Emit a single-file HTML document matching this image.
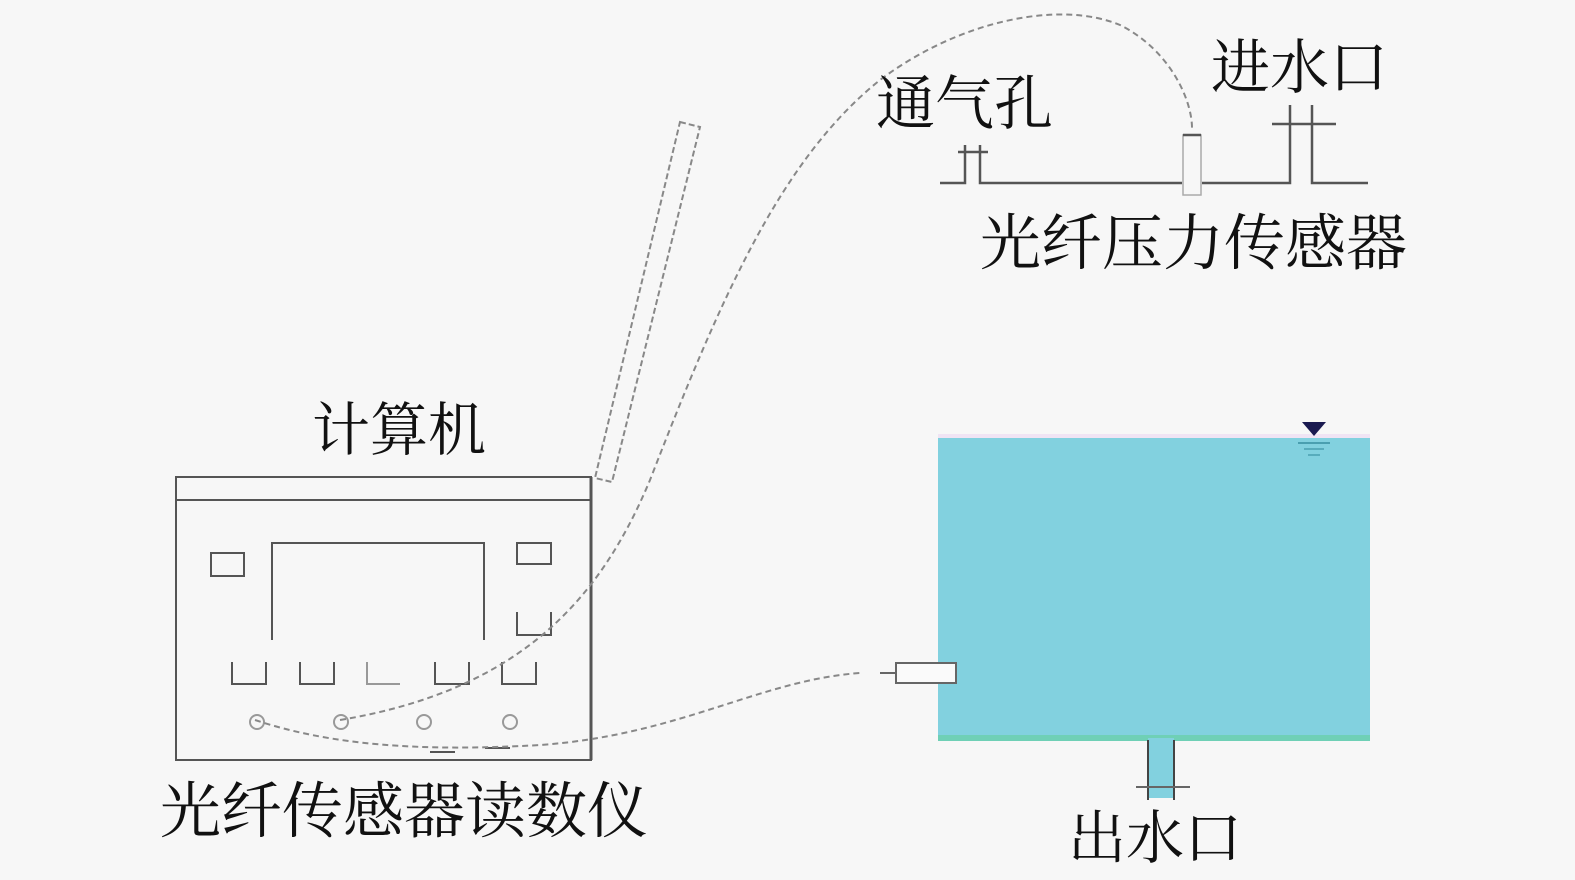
<!DOCTYPE html>
<html><head><meta charset="utf-8"><style>
html,body{margin:0;padding:0;background:#f7f7f7;}
svg{display:block;}
text{font-family:"Liberation Serif","Noto Serif CJK SC",serif;fill:#111;}
</style></head><body>
<svg width="1575" height="880" viewBox="0 0 1575 880" xmlns="http://www.w3.org/2000/svg">
<rect width="1575" height="880" fill="#f7f7f7"/>
<!-- tank -->
<rect x="938" y="434" width="432" height="6" fill="#f0e4f4"/>
<rect x="938" y="438" width="432" height="302" fill="#82d1df"/>
<rect x="938" y="735" width="432" height="6" fill="#6fd0b6"/>
<rect x="1148" y="738" width="26" height="60" fill="#82d1df"/>
<line x1="1148" y1="740" x2="1148" y2="800" stroke="#444" stroke-width="2"/>
<line x1="1174" y1="740" x2="1174" y2="800" stroke="#444" stroke-width="2"/>
<line x1="1136" y1="787" x2="1190" y2="787" stroke="#666" stroke-width="2"/>
<polygon points="1302,422 1326,422 1314,436" fill="#1a1a50"/>
<line x1="1298" y1="443" x2="1330" y2="443" stroke="#4a9fb0" stroke-width="2"/>
<line x1="1304" y1="449" x2="1324" y2="449" stroke="#4a9fb0" stroke-width="1.5"/>
<line x1="1308" y1="455" x2="1320" y2="455" stroke="#4a9fb0" stroke-width="1.5"/>
<!-- side sensor -->
<rect x="896" y="663" width="60" height="20" fill="#fafafa" stroke="#666" stroke-width="2"/>
<line x1="880" y1="673" x2="896" y2="673" stroke="#666" stroke-width="2"/>
<!-- top pipe -->
<g stroke="#555" stroke-width="2.5" fill="none">
<polyline points="940,183 965,183 965,145"/>
<polyline points="980,145 980,183 1182,183"/>
<line x1="958" y1="152" x2="988" y2="152"/>
<polyline points="1202,183 1290,183 1290,105"/>
<polyline points="1312,105 1312,183 1368,183"/>
<line x1="1272" y1="124" x2="1336" y2="124"/>
<rect x="1183" y="135" width="18" height="60" stroke="#aaa" stroke-width="1.5"/>
<line x1="1183" y1="135" x2="1201" y2="135"/>
</g>
<!-- computer -->
<g stroke="#555" stroke-width="2" fill="none">
<rect x="176" y="477" width="415" height="283"/>
<line x1="176" y1="500" x2="591" y2="500"/>
<line x1="591" y1="477" x2="591" y2="760" stroke-width="3"/>
<polyline points="272,640 272,543 484,543 484,640"/>
<rect x="211" y="553" width="33" height="23"/>
<rect x="517" y="543" width="34" height="21"/>
<polyline points="517,612 517,635 551,635 551,612"/>
<polyline points="232,662 232,684 266,684 266,662"/>
<polyline points="300,662 300,684 334,684 334,662"/>
<polyline points="367,662 367,684 400,684" stroke="#999"/>
<polyline points="435,662 435,684 469,684 469,662"/>
<polyline points="502,662 502,684 536,684 536,662"/>
<circle cx="257" cy="722" r="7" stroke="#999"/>
<circle cx="341" cy="722" r="7" stroke="#999"/>
<circle cx="424" cy="722" r="7" stroke="#999"/>
<circle cx="510" cy="722" r="7" stroke="#999"/>
<line x1="430" y1="752" x2="455" y2="752"/>
<line x1="485" y1="748" x2="510" y2="748"/>
</g>
<!-- tube -->
<polygon points="680,122 700,127 612,482 595,478" fill="none" stroke="#888" stroke-width="2" stroke-dasharray="6,3"/>
<!-- fibers -->
<path d="M340,720 C520,690 600,600 650,480 C720,300 780,160 880,80 C960,20 1060,0 1120,25 C1170,50 1192,100 1192,128" fill="none" stroke="#888" stroke-width="2" stroke-dasharray="6,4"/>
<path d="M255,720 C330,745 420,752 540,745 C680,735 760,680 860,673" fill="none" stroke="#888" stroke-width="2" stroke-dasharray="6,4"/>
<!-- labels -->
<text x="312" y="450" font-size="58">计算机</text>
<text x="160" y="832" font-size="61">光纤传感器读数仪</text>
<text x="876" y="124" font-size="59">通气孔</text>
<text x="1211" y="88" font-size="59">进水口</text>
<text x="980" y="264" font-size="61">光纤压力传感器</text>
<text x="1068" y="858" font-size="58">出水口</text>
</svg>
</body></html>
